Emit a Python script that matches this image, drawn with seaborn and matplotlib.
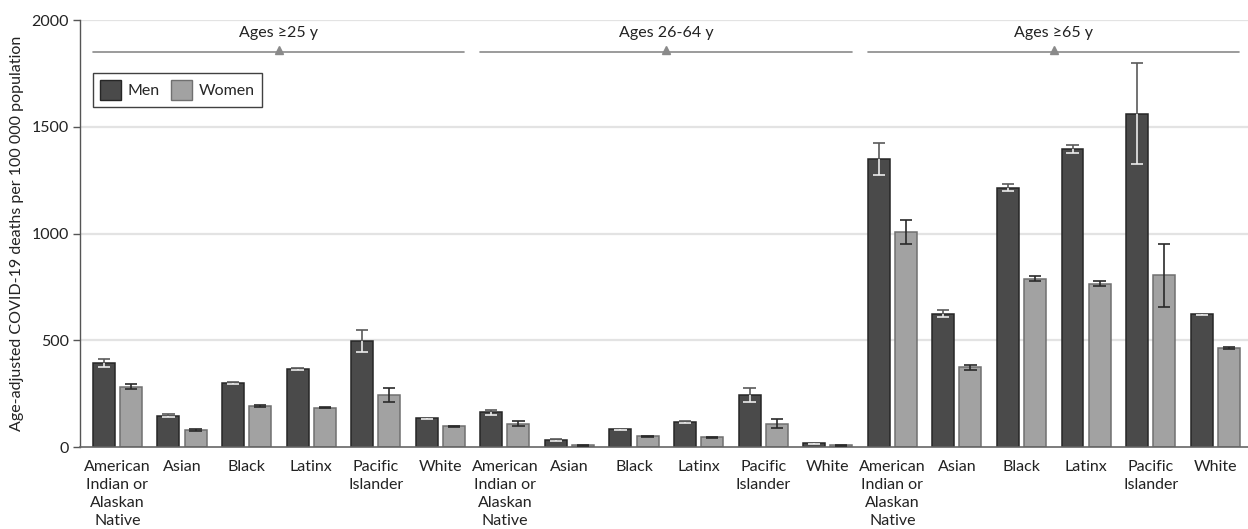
import numpy as np
import pandas as pd
import matplotlib
matplotlib.use("Agg")
import matplotlib.pyplot as plt
from matplotlib.patches import Patch
import seaborn as sns

# ---------------- data ----------------
groups = ["Ages \u226525 y", "Ages 26-64 y", "Ages \u226565 y"]
races = ["American\nIndian or\nAlaskan\nNative", "Asian", "Black", "Latinx",
         "Pacific\nIslander", "White"]
sexes = ["Men", "Women"]

men_vals = [393, 147, 300, 365, 496, 134,
            162, 34, 83, 117, 242, 17,
            1349, 622, 1215, 1396, 1561, 621]
men_lo = [375, 140, 295, 361, 445, 131,
          151, 30, 80, 114, 211, 14,
          1274, 607, 1198, 1378, 1325, 617]
men_hi = [410, 154, 305, 369, 550, 137,
          175, 38, 86, 120, 276, 20,
          1425, 640, 1233, 1414, 1799, 625]

women_vals = [283, 80, 192, 184, 242, 97,
              109, 8, 50, 45, 109, 9,
              1006, 373, 788, 765, 804, 464]
women_lo = [270, 76, 188, 181, 210, 95,
            100, 6, 47, 42, 88, 7,
            949, 362, 776, 755, 657, 461]
women_hi = [296, 84, 196, 187, 276, 99,
            120, 10, 53, 48, 130, 11,
            1062, 384, 800, 776, 951, 467]

yticks = [0, 500, 1000, 1500, 2000]

# ---------------- style ----------------
sns.set_theme(style="white")
plt.rcParams["font.family"] = ["Lato", "DejaVu Sans"]

men_color = "#4a4a4a"
women_color = "#a2a2a2"

keys = [f"{g}|{r}" for g in groups for r in races]
df = pd.DataFrame({
    "key": keys * 2,
    "sex": ["Men"] * len(keys) + ["Women"] * len(keys),
    "value": men_vals + women_vals,
})

fig = plt.figure(figsize=(12.48, 5.29), dpi=100)
ax = fig.add_axes([0.0641, 0.155, 0.9355, 0.807])

for y in yticks[1:]:
    ax.axhline(y, color="#e3e3e3", lw=1.6, zorder=0)

sns.barplot(data=df, x="key", y="value", hue="sex", order=keys,
            hue_order=sexes, palette=[men_color, women_color],
            width=0.84, gap=0.19, errorbar=None, saturation=1,
            linewidth=1.1, ax=ax, legend=False, zorder=2)

edge_cols = ["#262626", "#707070"]
for cont, ec in zip(ax.containers, edge_cols):
    for bar in cont:
        bar.set_edgecolor(ec)

# error bars
cap = 0.095
err_sets = [(men_vals, men_lo, men_hi, "#5a5a5a", "#ececec"),
            (women_vals, women_lo, women_hi, "#2a2a2a", "#2a2a2a")]
for cont, (vals, lo, hi, c_out, c_in) in zip(ax.containers, err_sets):
    for bar, v, l, h in zip(cont, vals, lo, hi):
        xc = bar.get_x() + bar.get_width() / 2
        ax.vlines(xc, v, h, color=c_out, lw=1.2, zorder=4)
        ax.hlines(h, xc - cap, xc + cap, color=c_out, lw=1.2, zorder=4)
        ax.vlines(xc, l, v, color=c_in, lw=1.2, zorder=4)
        ax.hlines(l, xc - cap, xc + cap, color=c_in, lw=1.2, zorder=4)

# axes
n = len(keys)
ax.set_xlim(-0.58, n - 0.5)
ax.set_ylim(0, 2000)
ax.set_yticks(yticks)
ax.set_yticklabels([str(t) for t in yticks], fontsize=11.5, color="#222222")
ax.set_xticks(range(n))
ax.set_xticklabels(races * 3, fontsize=11.5, color="#222222", linespacing=1.38)
ax.tick_params(axis="x", length=0, pad=9)
ax.tick_params(axis="y", length=5, width=1, color="#555555", pad=3, left=True)
ax.set_xlabel("")
ax.set_ylabel("Age-adjusted COVID-19 deaths per 100 000 population",
              fontsize=11.5, color="#222222", labelpad=5)
for s in ["top", "right"]:
    ax.spines[s].set_visible(False)
ax.spines["left"].set_color("#555555")
ax.spines["bottom"].set_color("#666666")
ax.spines["left"].set_linewidth(1.0)
ax.spines["bottom"].set_linewidth(1.2)

# group brackets
for gi, g in enumerate(groups):
    x0 = gi * 6 - 0.38
    x1 = gi * 6 + 5 + 0.37
    xm = gi * 6 + 2.5
    ax.plot([x0, min(x1, n - 0.5)], [1850, 1850], color="#8a8a8a", lw=1.2,
            clip_on=False, zorder=3)
    ax.plot([xm], [1862], marker="^", ms=6, color="#8a8a8a", mec="#8a8a8a",
            clip_on=False, zorder=3)
    ax.text(xm, 1940, g, ha="center", va="center", fontsize=11.5, color="#222222")

handles = [Patch(facecolor=men_color, edgecolor=edge_cols[0], label="Men"),
           Patch(facecolor=women_color, edgecolor=edge_cols[1], label="Women")]
leg = ax.legend(handles=handles, loc="upper left", bbox_to_anchor=(0.011, 0.876),
                borderaxespad=0, ncol=2, frameon=True, fancybox=False,
                fontsize=11.5, handlelength=1.3, handleheight=1.5,
                columnspacing=0.7, handletextpad=0.45, borderpad=0.45)
leg.get_frame().set_edgecolor("#111111")
leg.get_frame().set_linewidth(1.0)

fig.savefig("out.png", dpi=100)
